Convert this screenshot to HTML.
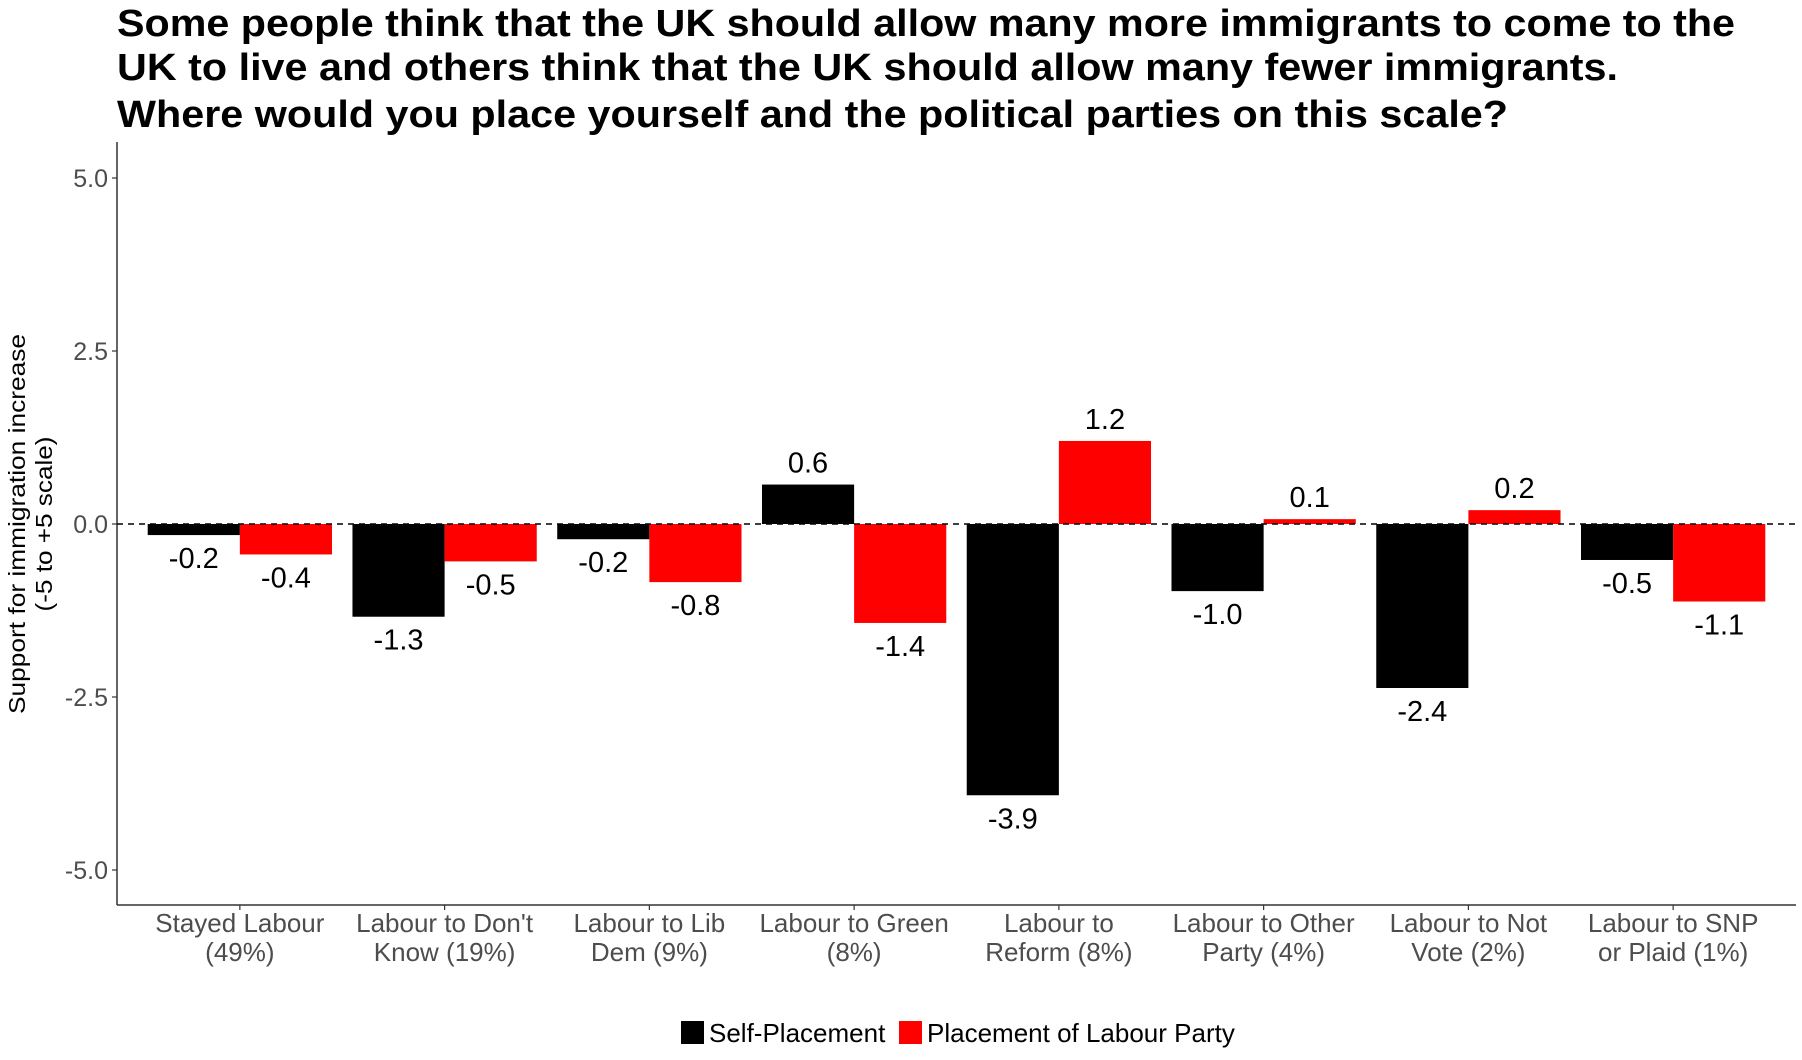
<!DOCTYPE html>
<html><head><meta charset="utf-8"><style>
html,body{margin:0;padding:0;background:#fff;}
svg{display:block;font-family:"Liberation Sans",sans-serif;}
</style></head><body>
<svg id="chart" width="1802" height="1060" viewBox="0 0 1802 1060">
<g font-weight="bold" font-size="38" fill="#000">
<text x="117" y="36" textLength="1618" lengthAdjust="spacingAndGlyphs">Some people think that the UK should allow many more immigrants to come to the</text>
<text x="117" y="80" textLength="1501" lengthAdjust="spacingAndGlyphs">UK to live and others think that the UK should allow many fewer immigrants.</text>
<text x="117" y="127" textLength="1391" lengthAdjust="spacingAndGlyphs">Where would you place yourself and the political parties on this scale?</text>
</g>
<g id="plot"></g>
<text transform="translate(25,524) rotate(-90)" text-anchor="middle" font-size="23" fill="#000" textLength="380" lengthAdjust="spacingAndGlyphs">Support for immigration increase</text>
<text transform="translate(52,524) rotate(-90)" text-anchor="middle" font-size="23" fill="#000" textLength="175" lengthAdjust="spacingAndGlyphs">(-5 to +5 scale)</text>
<g>
<rect x="681" y="1021" width="23" height="23" fill="#000"/>
<text x="709" y="1042" font-size="26" fill="#000">Self-Placement</text>
<rect x="899" y="1021" width="23" height="23" fill="#ff0000"/>
<text x="927" y="1042" font-size="26" fill="#000">Placement of Labour Party</text>
</g>
</svg>
<script>
const categories = [["Stayed Labour","(49%)"],["Labour to Don't","Know (19%)"],["Labour to Lib","Dem (9%)"],["Labour to Green","(8%)"],["Labour to","Reform (8%)"],["Labour to Other","Party (4%)"],["Labour to Not","Vote (2%)"],["Labour to SNP","or Plaid (1%)"]];
const selfValues = [-0.16, -1.34, -0.22, 0.57, -3.92, -0.97, -2.37, -0.52];
const labourValues = [-0.44, -0.54, -0.84, -1.43, 1.2, 0.07, 0.2, -1.12];
const yTicks = [5.0, 2.5, 0.0, -2.5, -5.0];

const NS = "http://www.w3.org/2000/svg";
const plot = document.getElementById('plot');
const X0 = 117, X1 = 1796, Y0 = 142, Y1 = 905;
const band = (X1 - X0) / (categories.length + 0.2);
function xCenter(i){ return X0 + (0.6 + i) * band; }
function yScale(v){ return 524 - v * 69.2; }
function mk(tag, attrs){ const e = document.createElementNS(NS, tag); for (const k in attrs) e.setAttribute(k, attrs[k]); plot.appendChild(e); return e; }

let ax = mk('line',{x1:X0,y1:Y0,x2:X0,y2:Y1,stroke:'#333','stroke-width':1.5});


let bx = mk('line',{x1:X0,y1:Y1,x2:X1,y2:Y1,stroke:'#333','stroke-width':1.5});



yTicks.forEach(t => {
  const y = yScale(t);
  const tk = mk('line',{x1:X0-5,y1:y,x2:X0,y2:y,stroke:'#333','stroke-width':1.2});
  
  
  const lb = mk('text',{x:X0-9,y:y+9,'text-anchor':'end','font-size':25,fill:'#4d4d4d'});
  lb.textContent = t.toFixed(1);
  
  
});

const bw = band * 0.45;
function bar(i, v, offset, color, nm){
  const xc = xCenter(i) + offset;
  const y0 = yScale(0), yv = yScale(v);
  const r = mk('rect',{x:xc - bw/2, y:Math.min(y0,yv), width:bw, height:Math.abs(yv-y0), fill:color});
  
  
  const t = mk('text',{x:xc, y: v >= 0 ? yv - 12 : yv + 33, 'text-anchor':'middle','font-size':29, fill:'#000'});
  t.textContent = v.toFixed(1);
  
  
}
categories.forEach((c, i) => {
  bar(i, selfValues[i], -bw/2, '#000', 'bar-self');
  bar(i, labourValues[i], bw/2, '#ff0000', 'bar-labour');
  const xc = xCenter(i);
  const tk = mk('line',{x1:xc,y1:Y1,x2:xc,y2:Y1+5,stroke:'#333','stroke-width':1.2});
  
  
  c.forEach((line, j) => {
    const t = mk('text',{x:xc, y:932 + j*29, 'text-anchor':'middle','font-size':26, fill:'#4d4d4d'});
    t.textContent = line;
    
    
  });
});
const zl = mk('line',{x1:X0,y1:yScale(0),x2:X1,y2:yScale(0),stroke:'#000','stroke-width':1.5,'stroke-dasharray':'6,5'});


</script>
</body></html>
